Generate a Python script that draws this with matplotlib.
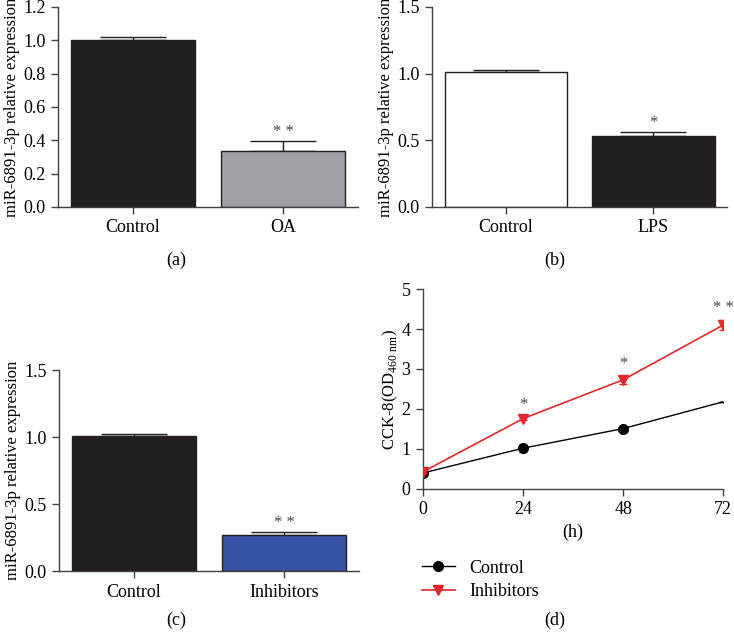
import matplotlib
matplotlib.use("Agg")
import matplotlib.pyplot as plt
from matplotlib.lines import Line2D
import numpy as np

plt.rcParams['font.family'] = ['Liberation Serif', 'DejaVu Serif']
plt.rcParams['font.size'] = 12.5

# panel data
groups_a = ["Control", "OA"]
vals_a = [1.0, 0.335]
err_a = [0.02, 0.058]

groups_b = ["Control", "LPS"]
vals_b = [1.01, 0.53]
err_b = [0.015, 0.035]

groups_c = ["Control", "Inhibitors"]
vals_c = [1.01, 0.27]
err_c = [0.01, 0.02]

hours = [0, 24, 48, 72]
ctrl_cck = [0.40, 1.02, 1.51, 2.18]
ctrl_err = [0.04, 0.08, 0.03, 0.0]
inh_cck = [0.43, 1.76, 2.73, 4.10]
inh_err = [0.04, 0.03, 0.10, 0.12]

dark = "#231f20"
red = "#e5262b"
spine_col = "#404040"
ylab = "miR-6891-3p relative expression"


def style(ax):
    for s in ["top", "right"]:
        ax.spines[s].set_visible(False)
    for s in ["left", "bottom"]:
        ax.spines[s].set_color(spine_col)
        ax.spines[s].set_linewidth(1.0)
    ax.tick_params(direction="out", length=5, width=1, color=spine_col, labelsize=13, pad=4)


def bar_panel(ax, groups, vals, errs, colors, ymax, ystep, stars, star_y):
    x = np.arange(len(groups))
    ax.bar(x, vals, 0.83, color=colors, edgecolor=dark, linewidth=1.0, zorder=2)
    ax.errorbar(x, vals, yerr=[np.zeros(len(errs)), errs], fmt="none",
                ecolor=dark, elinewidth=1.0, capsize=24, capthick=1.0, zorder=1)
    ax.text(1, star_y, stars, ha="center", va="bottom", fontsize=12, color="#444444")
    ax.set_xlim(-0.5, 1.5)
    ax.set_ylim(0, ymax)
    ax.set_yticks(np.arange(0, ymax + 1e-9, ystep))
    ax.set_xticks(x)
    ax.set_xticklabels(groups)
    ax.set_ylabel(ylab, fontsize=12, labelpad=2)
    style(ax)


fig = plt.figure(figsize=(7.34, 6.32), dpi=100)

ax_a = fig.add_axes([0.079, 0.6725, 0.409, 0.3165])
bar_panel(ax_a, groups_a, vals_a, err_a, [dark, "#a0a0a6"], 1.2, 0.2, "* *", 0.40)
ax_a.set_yticklabels(["%.1f" % v for v in np.arange(0, 1.21, 0.2)])

ax_b = fig.add_axes([0.5886, 0.6725, 0.402, 0.3165])
bar_panel(ax_b, groups_b, vals_b, err_b, ["white", dark], 1.5, 0.5, "*", 0.57)

ax_c = fig.add_axes([0.0804, 0.0965, 0.409, 0.318])
bar_panel(ax_c, groups_c, vals_c, err_c, [dark, "#3953a4"], 1.5, 0.5, "* *", 0.30)

ax_d = fig.add_axes([0.5763, 0.2263, 0.409, 0.3164])
ax_d.errorbar(hours, ctrl_cck, yerr=ctrl_err, color="black", marker="o", markersize=7,
              markevery=[0, 1, 2], lw=1.0, capsize=3, zorder=2)
ax_d.errorbar(hours, inh_cck, yerr=inh_err, color=red, marker="v", markersize=7,
              lw=1.2, capsize=3, zorder=3)
for h, v, e, s in zip(hours[1:], inh_cck[1:], inh_err[1:], ["*", "*", "* *"]):
    ax_d.text(h, v + e + 0.1, s, ha="center", va="bottom", fontsize=12, color="#444444")
ax_d.set_xlim(0, 72)
ax_d.set_ylim(0, 5)
ax_d.set_xticks(hours)
ax_d.set_yticks(range(6))
ax_d.set_ylabel(r"CCK-8(OD$_{\mathregular{460\ nm}}$)", fontsize=12, labelpad=1)
style(ax_d)
ax_d.set_xlabel("(h)", fontsize=13, labelpad=4)
handles = [Line2D([], [], color="black", marker="o", markersize=7, lw=1.0),
           Line2D([], [], color=red, marker="v", markersize=7, lw=1.2)]
ax_d.legend(handles, ["Control", "Inhibitors"], loc="upper left",
            bbox_to_anchor=(0.553, 0.14), bbox_transform=fig.transFigure,
            frameon=False, fontsize=13, handlelength=1.8, labelspacing=0.35)

fig.text(0.24, 0.588, "(a)", ha="center", va="center", fontsize=13)
fig.text(0.756, 0.588, "(b)", ha="center", va="center", fontsize=13)
fig.text(0.24, 0.019, "(c)", ha="center", va="center", fontsize=13)
fig.text(0.756, 0.019, "(d)", ha="center", va="center", fontsize=13)

fig.savefig("out.png", dpi=100)
